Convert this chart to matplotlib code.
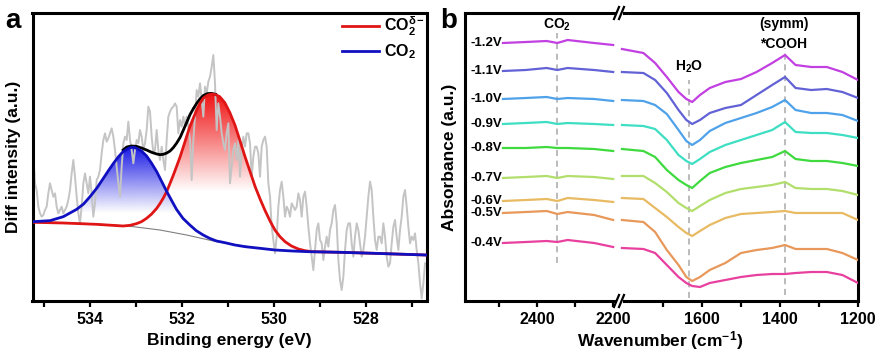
import numpy as np
import matplotlib
matplotlib.use("Agg")
import matplotlib.pyplot as plt
from matplotlib.lines import Line2D
from matplotlib.patches import Rectangle
import matplotlib.colors as mcolors

plt.rcParams['font.family'] = ['Liberation Sans', 'DejaVu Sans']
plt.rcParams['font.weight'] = 'bold'
plt.rcParams['axes.labelweight'] = 'bold'
plt.rcParams['mathtext.fontset'] = 'custom'
plt.rcParams['mathtext.rm'] = 'Liberation Sans:bold'
plt.rcParams['mathtext.it'] = 'Liberation Sans:bold'
plt.rcParams['mathtext.bf'] = 'Liberation Sans:bold'

# ---------------- panel a : O 1s difference spectrum ----------------
raw_int = [
    435, 350, 330, 280, 260, 250, 255, 270, 280, 320,
    350, 330, 310, 320, 280, 260, 270, 280, 260, 270,
    280, 300, 330, 380, 420, 370, 310, 260, 230, 280,
    350, 380, 350, 320, 370, 320, 250, 290, 360, 370,
    390, 440, 480, 500, 475, 485, 500, 515, 490, 450,
    400, 350, 310, 400, 470, 490, 480, 535, 480, 450,
    410, 450, 480, 470, 510, 490, 450, 470, 510, 580,
    565, 490, 440, 450, 510, 450, 420, 460, 420, 390,
    480, 550, 565, 575, 580, 590, 580, 500, 540, 520,
    550, 520, 550, 520, 480, 360, 480, 550, 630, 610,
    650, 600, 550, 640, 620, 655, 670, 700, 735, 650,
    510, 590, 550, 500, 470,
    450, 500, 530, 350, 400, 450, 470, 420, 480, 370,
    450, 490, 460, 500, 500, 470, 370, 430, 460, 460,
    440, 370, 460, 480, 490, 460, 350, 310, 220, 180,
    140, 190, 280, 330, 355, 310, 250, 280, 270, 250,
    290, 280, 270, 280, 320, 300, 250, 310, 325, 280,
    220, 170, 130, 90, 150, 210, 230, 180, 170, 120,
    160, 190, 160, 210, 230, 270, 285, 230, 120, 60,
    30, 70, 150, 210, 230, 230, 170, 130, 190, 230,
    210, 170, 130, 150, 190, 250, 310, 355, 330, 250,
    180, 150, 190, 190, 170, 230, 190, 130, 100, 110,
    170, 220, 240, 190, 150, 210, 250, 310, 330, 280,
    220, 170, 190, 180, 200, 150, 110, 50, 5, 50,
    110,
]
raw_be = np.linspace(535.232, 526.717, len(raw_int))

co2_be = [535.23, 534.87, 534.58, 534.29, 534.14, 534.00, 533.85, 533.71, 533.60,
          533.49, 533.38, 533.28, 533.20, 533.13, 533.05, 532.99, 532.88, 532.77,
          532.66, 532.55, 532.44, 532.33, 532.22, 532.12, 531.98, 531.83, 531.69,
          531.54, 531.40, 531.25, 531.07, 530.85, 530.63, 530.30, 529.98, 529.60,
          529.26, 528.53, 527.81, 526.70]
co2_int = [235, 238, 250, 272, 288, 310, 336, 365, 388,
           410, 430, 445, 452, 457, 458, 455, 447, 432,
           410, 385, 355, 325, 297, 272, 245, 225, 208,
           195, 185, 177, 172, 165, 160, 155, 150, 147,
           145, 143, 140, 135]

co2d_be = [535.23, 534.58, 533.86, 533.28, 533.13, 532.99, 532.88, 532.77, 532.66,
           532.55, 532.48, 532.41, 532.33, 532.26, 532.19, 532.12, 532.04, 531.97,
           531.90, 531.83, 531.75, 531.68, 531.61, 531.54, 531.45, 531.36, 531.27,
           531.18, 531.07, 530.96, 530.85, 530.74, 530.63, 530.52, 530.41, 530.30,
           530.20, 530.09, 529.98, 529.87, 529.76, 529.62, 529.47, 529.33, 529.18,
           528.53, 527.81, 526.70]
co2d_int = [233, 231, 227, 222, 224, 229, 235, 245, 258,
            275, 289, 305, 326, 350, 374, 400, 430, 460,
            490, 520, 547, 570, 590, 605, 614, 618, 616,
            610, 592, 562, 525, 478, 430, 385, 340, 302,
            270, 238, 210, 190, 175, 162, 153, 148, 145,
            143, 140, 135]

env_be = [533.28, 533.20, 533.10, 532.99, 532.88, 532.77, 532.66, 532.55, 532.48,
          532.41, 532.33, 532.26, 532.19, 532.12, 532.04, 531.97, 531.90, 531.83,
          531.75, 531.68, 531.61, 531.54, 531.45, 531.36, 531.27]
env_int = [450, 459, 462, 461, 456, 450, 443, 438, 436,
           437, 441, 447, 457, 470, 488, 510, 532, 555,
           575, 590, 603, 613, 619, 620, 617]

base_be = [535.23, 534.50, 534.00, 533.50, 533.06, 532.48, 531.90, 531.32,
           530.80, 530.30, 529.80, 529.30, 528.50, 527.80, 526.70]
base_int = [234, 232, 229, 225, 220, 210, 195, 177,
            165, 155, 149, 145, 143, 140, 135]

# ---------------- panel b : in-situ ATR-SEIRAS ----------------
voltages = ['-1.2V', '-1.1V', '-1.0V', '-0.9V', '-0.8V', '-0.7V', '-0.6V', '-0.5V', '-0.4V']
line_colors = ['#C23FE2', '#6262D6', '#4FA2EA', '#3EDEC2', '#3EDA3E',
               '#B2DE6C', '#E8BA62', '#E8985A', '#E8409E']

wn_left = [2490, 2430, 2375, 2347, 2320, 2250, 2200]
wn_right = [1805, 1750, 1720, 1690, 1660, 1640, 1625, 1605, 1580, 1540,
            1500, 1460, 1420, 1387, 1360, 1320, 1280, 1240, 1200]

abs_l_12 = [258, 259, 260, 258, 261, 258, 256]
abs_l_11 = [230, 231, 233, 231, 233, 231, 229]
abs_l_10 = [202, 203, 204, 202, 203, 202, 200]
abs_l_09 = [177, 178, 179, 177, 178, 177, 176]
abs_l_08 = [153, 153, 154, 153, 153, 152, 150]
abs_l_07 = [123, 124, 125, 123, 125, 124, 122]
abs_l_06 = [100, 101, 102, 100, 103, 101, 99]
abs_l_05 = [88, 89, 90, 87, 89, 86, 81]
abs_l_04 = [58, 59, 60, 59, 61, 58, 54]

abs_r_12 = [252, 248, 238, 224, 209, 202, 199, 206, 213, 219, 222, 229, 238, 246, 236, 234, 234, 229, 221]
abs_r_11 = [229, 228, 221, 208, 191, 181, 177, 181, 188, 193, 196, 206, 216, 224, 213, 211, 212, 209, 203]
abs_r_10 = [201, 200, 196, 187, 171, 160, 156, 161, 170, 178, 183, 188, 194, 201, 191, 188, 188, 186, 180]
abs_r_09 = [176, 175, 172, 161, 146, 140, 137, 142, 149, 156, 161, 166, 171, 179, 169, 168, 168, 166, 163]
abs_r_08 = [152, 150, 144, 131, 121, 116, 113, 120, 128, 134, 138, 141, 144, 150, 142, 140, 140, 138, 135]
abs_r_07 = [125, 125, 118, 109, 98, 93, 90, 95, 101, 108, 112, 114, 116, 119, 113, 112, 112, 110, 106]
abs_r_06 = [103, 102, 93, 84, 74, 68, 65, 70, 76, 83, 87, 88, 89, 90, 88, 88, 88, 88, 81]
abs_r_05 = [81, 79, 69, 51, 36, 24, 20, 24, 31, 38, 48, 51, 53, 56, 52, 52, 52, 48, 41]
abs_r_04 = [53, 52, 48, 36, 24, 18, 15, 14, 18, 21, 24, 26, 27, 27, 28, 29, 29, 26, 18]

left_sets = [abs_l_12, abs_l_11, abs_l_10, abs_l_09, abs_l_08, abs_l_07, abs_l_06, abs_l_05, abs_l_04]
right_sets = [abs_r_12, abs_r_11, abs_r_10, abs_r_09, abs_r_08, abs_r_07, abs_r_06, abs_r_05, abs_r_04]

W, H = 880, 359
fig = plt.figure(figsize=(W / 100, H / 100), dpi=100)


def box(x0, y0, x1, y1):
    return [x0 / W, 1 - y1 / H, (x1 - x0) / W, (y1 - y0) / H]


def gradient_fill(ax, xs, ys, bx, by, color, y_hi, y_lo, z):
    poly = ax.fill(np.concatenate([xs, bx[::-1]]), np.concatenate([ys, by[::-1]]),
                   facecolor='none', edgecolor='none')[0]
    rgb = mcolors.to_rgb(color)
    grad = np.zeros((256, 1, 4))
    grad[..., :3] = rgb
    grad[..., 3] = np.linspace(0, 1, 256)[:, None]
    im = ax.imshow(grad, extent=[526.0, 536.0, y_lo, y_hi], origin='lower',
                   aspect='auto', zorder=z, interpolation='bilinear')
    im.set_clip_path(poly)


SPW = 2.2
# ---- panel a
axa = fig.add_axes(box(32.5, 13, 426.5, 301))
gradient_fill(axa, np.array(co2_be), np.array(co2_int), np.array(base_be), np.array(base_int),
              '#1a1ae6', 458, 262, 1)
gradient_fill(axa, np.array(co2d_be), np.array(co2d_int), np.array(base_be), np.array(base_int),
              '#f01010', 620, 325, 1)
axa.plot(raw_be, raw_int, color='#c4c4c4', lw=1.4, zorder=2)
axa.plot(base_be, base_int, color='#808080', lw=0.8, zorder=3)
axa.plot(env_be, env_int, color='black', lw=2.0, zorder=4)
axa.plot(co2d_be, co2d_int, color='#e01515', lw=2.0, zorder=5, label=r'CO$_2^{\delta-}$')
axa.plot(co2_be, co2_int, color='#1010c0', lw=2.0, zorder=6, label=r'CO$_2$')
axa.set_xlim(535.25, 526.685)
axa.set_ylim(-3, 861)
axa.set_xticks([534, 532, 530, 528])
axa.set_xticks([535, 533, 531, 529, 527], minor=True)
axa.set_yticks([])
axa.tick_params(axis='x', which='both', direction='out', length=4, width=1.6, labelsize=11.5, pad=4)
for lab in axa.get_xticklabels():
    lab.set_fontweight('bold')
for s in axa.spines.values():
    s.set_linewidth(SPW)
axa.set_xlabel('Binding energy (eV)', fontsize=12.5, fontweight='bold', labelpad=4)
axa.set_ylabel('Diff intensity (a.u.)', fontsize=12.5, fontweight='bold', labelpad=8)
axa.legend(loc='upper right', bbox_to_anchor=(1.0, 1.0), frameon=False, fontsize=11.5,
           handlelength=2.3, handletextpad=0.3, labelspacing=0.3, borderaxespad=0.0,
           borderpad=0.1)

# ---- panel b (broken wavenumber axis)
axl = fig.add_axes(box(465, 13, 620, 301))
axr = fig.add_axes(box(620, 13, 858, 301))
for ys, col in zip(left_sets, line_colors):
    axl.plot(wn_left, ys, color=col, lw=1.6, zorder=3)
for ys, col in zip(right_sets, line_colors):
    axr.plot(wn_right, ys, color=col, lw=1.6, zorder=3)
for lab, ys in zip(voltages, left_sets):
    axl.text(2492, ys[0], lab, ha='right', va='center', fontsize=9.5, fontweight='bold')

axl.plot([2347, 2347], [38, 268], ls=(0, (4, 3)), color='#a8a8a8', lw=1.1, zorder=1)
axr.plot([1634, 1634], [3, 221], ls=(0, (4, 3)), color='#a8a8a8', lw=1.1, zorder=1)
axr.plot([1387, 1387], [6, 253], ls=(0, (4, 3)), color='#a8a8a8', lw=1.1, zorder=1)
axl.text(2347, 276, r'CO$_2$', ha='center', va='center', fontsize=10)
axr.text(1634, 234, r'H$_2$O', ha='center', va='center', fontsize=10)
axr.text(1390, 277, '(symm)', ha='center', va='center', fontsize=10)
axr.text(1390, 257, '*COOH', ha='center', va='center', fontsize=10)

axl.set_xlim(2590, 2182)
axr.set_xlim(1810, 1200)
for ax in (axl, axr):
    ax.set_ylim(0, 288)
    ax.set_yticks([])
    ax.tick_params(axis='x', which='both', direction='out', length=4, width=1.6, labelsize=11.5, pad=4)
    for s in ax.spines.values():
        s.set_linewidth(SPW)
axl.set_xticks([2400, 2200])
axl.set_xticks([2500, 2300], minor=True)
axr.set_xticks([1600, 1400, 1200])
axr.set_xticks([1700, 1500, 1300], minor=True)
for ax in (axl, axr):
    for lab in ax.get_xticklabels():
        lab.set_fontweight('bold')
axl.spines['right'].set_visible(False)
axr.spines['left'].set_visible(False)
axl.set_ylabel('Absorbance (a.u.)', fontsize=12.5, fontweight='bold', labelpad=6)
fig.text(660 / W, 1 - 341 / H, r'Wavenumber (cm$^{-1}$)', ha='center', va='center',
         fontsize=12.5, fontweight='bold')

# break marks on the wavenumber axis
for py in (13, 301):
    fx, fy = 620 / W, 1 - py / H
    fig.add_artist(Rectangle((fx - 3 / W, fy - 4 / H), 6 / W, 8 / H,
                             transform=fig.transFigure, facecolor='white', edgecolor='none', zorder=10))
    for dx in (-4, 1):
        fig.add_artist(Line2D([(620 + dx - 2) / W, (620 + dx + 3) / W],
                              [fy - 6 / H, fy + 6 / H], transform=fig.transFigure,
                              color='black', lw=1.6, zorder=11))

fig.text(5 / W, 1 - 28 / H, 'a', fontsize=20, fontweight='bold', va='baseline')
fig.text(440 / W, 1 - 28 / H, 'b', fontsize=20, fontweight='bold', va='baseline')

fig.savefig('out.png', dpi=100)
